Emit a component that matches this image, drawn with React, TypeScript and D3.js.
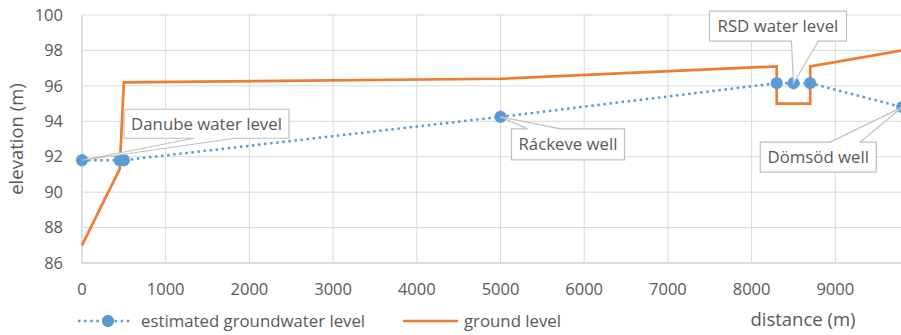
import React from 'react';
import * as d3 from 'd3';

// estimated groundwater level (blue, dotted with markers)
const gwDistance = [0, 450, 500, 5000, 8300, 8500, 8700, 9800];
const gwLevel = [91.8, 91.8, 91.8, 94.25, 96.15, 96.15, 96.15, 94.8];

// ground level (orange)
const groundDistance = [0, 450, 500, 5000, 8300, 8300, 8700, 8700, 9800];
const groundLevel = [87, 91.3, 96.2, 96.4, 97.1, 95.0, 95.0, 97.1, 98.0];

const yTicks = [86, 88, 90, 92, 94, 96, 98, 100];
const xTicks = [0, 1000, 2000, 3000, 4000, 5000, 6000, 7000, 8000, 9000];

// callouts: label text and index of the groundwater point they point at
const calloutLabels = ['Danube water level', 'Ráckeve well', 'RSD water level', 'Dömsöd well'];
const calloutPoints = [0, 3, 5, 7];

const W = 901;
const H = 335;
const BLUE = '#5B9BD5';
const ORANGE = '#ED7D31';
const GRID = '#D9D9D9';
const TEXT = '#595959';
const FONT = '"Open Sans", "Liberation Sans", sans-serif';

export default function App() {
  const x = d3.scaleLinear().domain([0, 10000]).range([82, 919]);
  const y = d3.scaleLinear().domain([86, 100]).range([263, 15]);

  const gw = gwDistance.map((d, i) => [d, gwLevel[i]] as [number, number]);
  const ground = groundDistance.map((d, i) => [d, groundLevel[i]] as [number, number]);

  const line = d3
    .line<[number, number]>()
    .x(d => x(d[0]))
    .y(d => y(d[1]));

  // box placement relative to the pointed point: dx, dy of box top-left, width, height, wedge side/base
  const boxes = [
    { dx: 42, dy: -51, w: 165, h: 29, side: 'bottom', b1: 70, b2: 111 },
    { dx: 11, dy: 12, w: 113, h: 31, side: 'top', b1: 16, b2: 49 },
    { dx: -84, dy: -72, w: 137, h: 30, side: 'bottom', b1: 82, b2: 109 },
    { dx: -142, dy: 35, w: 116, h: 30, side: 'top', b1: 70, b2: 100 },
  ];

  const callouts = calloutLabels.map((label, i) => {
    const p = gw[calloutPoints[i]];
    const px = x(p[0]);
    const py = y(p[1]);
    const b = boxes[i];
    const x0 = px + b.dx;
    const y0 = py + b.dy;
    const x1 = x0 + b.w;
    const y1 = y0 + b.h;
    let path: string;
    if (b.side === 'bottom') {
      path = `M${x0},${y0}L${x1},${y0}L${x1},${y1}L${x0 + b.b2},${y1}L${px},${py}L${x0 + b.b1},${y1}L${x0},${y1}Z`;
    } else {
      path = `M${x0},${y0}L${x0 + b.b1},${y0}L${px},${py}L${x0 + b.b2},${y0}L${x1},${y0}L${x1},${y1}L${x0},${y1}Z`;
    }
    return { label, path, cx: (x0 + x1) / 2, cy: (y0 + y1) / 2 };
  });

  const cross = d3.symbol().type(d3.symbolCross).size(80)() || '';
  const marker = (cx: number, cy: number, key: string | number) => (
    <g key={key} transform={`translate(${cx},${cy})`}>
      <circle r={4.6} fill={BLUE} />
      <path d={cross} fill={BLUE} />
      <path d={cross} fill={BLUE} transform="rotate(45)" />
    </g>
  );

  return (
    <svg width={W} height={H} style={{ position: 'absolute', left: 0, top: 0, background: '#fff' }}>
      <rect width={W} height={H} fill="#fff" />
      {/* gridlines */}
      {yTicks.map(t => (
        <line key={'gy' + t} x1={x(0)} x2={W} y1={y(t)} y2={y(t)} stroke={GRID} strokeWidth={1} />
      ))}
      {xTicks.map(t => (
        <line key={'gx' + t} x1={x(t)} x2={x(t)} y1={y(100)} y2={y(86)} stroke={GRID} strokeWidth={1} />
      ))}
      <line x1={x(0)} x2={x(0)} y1={y(100)} y2={y(86)} stroke={GRID} strokeWidth={1.3} />
      <line x1={x(0)} x2={W} y1={y(86)} y2={y(86)} stroke={GRID} strokeWidth={1.3} />

      {/* tick labels */}
      {yTicks.map(t => (
        <text
          key={'ty' + t}
          x={63}
          y={y(t)}
          dy="0.35em"
          textAnchor="end"
          fontFamily={FONT}
          fontSize={16.5}
          fill={TEXT}
        >
          {t}
        </text>
      ))}
      {xTicks.map(t => (
        <text
          key={'tx' + t}
          x={x(t)}
          y={289}
          dy="0.35em"
          textAnchor="middle"
          fontFamily={FONT}
          fontSize={16.5}
          fill={TEXT}
        >
          {t}
        </text>
      ))}

      {/* axis titles */}
      <text
        transform={`translate(17,${(y(100) + y(86)) / 2}) rotate(-90)`}
        dy="0.35em"
        textAnchor="middle"
        fontFamily={FONT}
        fontSize={18.5}
        fill={TEXT}
      >
        elevation (m)
      </text>
      <text x={803} y={320} dy="0.35em" textAnchor="middle" fontFamily={FONT} fontSize={18.5} fill={TEXT}>
        distance (m)
      </text>

      {/* series */}
      <path d={line(ground) || ''} fill="none" stroke={ORANGE} strokeWidth={2.7} strokeLinejoin="miter" />
      <path
        d={line(gw) || ''}
        fill="none"
        stroke={BLUE}
        strokeWidth={2.5}
        strokeDasharray="2.5 3.6"
      />
      {gw.map((d, i) => marker(x(d[0]), y(d[1]), i))}

      {/* callouts */}
      {callouts.map(c => (
        <g key={c.label}>
          <path d={c.path} fill="#fff" stroke="#BFBFBF" strokeWidth={1.2} />
          <text
            x={c.cx}
            y={c.cy}
            dy="0.35em"
            textAnchor="middle"
            fontFamily={FONT}
            fontSize={16.8}
            fill={TEXT}
          >
            {c.label}
          </text>
        </g>
      ))}

      {/* legend */}
      <line x1={78} x2={132} y1={321} y2={321} stroke={BLUE} strokeWidth={2.5} strokeDasharray="2.5 3.6" />
      {marker(108, 321, 'legend')}
      <text x={141} y={321} dy="0.35em" fontFamily={FONT} fontSize={16.8} fill={TEXT}>
        estimated groundwater level
      </text>
      <line x1={403} x2={458} y1={321} y2={321} stroke={ORANGE} strokeWidth={2.7} />
      <text x={464} y={321} dy="0.35em" fontFamily={FONT} fontSize={16.8} fill={TEXT}>
        ground level
      </text>
    </svg>
  );
}
